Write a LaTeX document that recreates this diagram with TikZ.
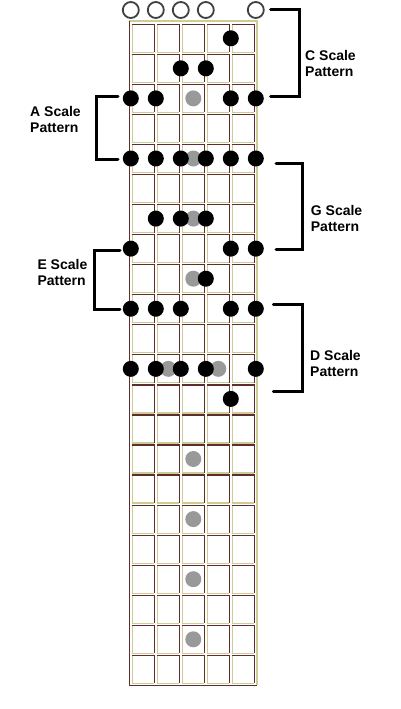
\documentclass[tikz,border=0pt]{standalone}
\usepackage{fontspec}
\setmainfont{Liberation Sans}
\definecolor{fretbrown}{RGB}{96,44,44}
\definecolor{fretbeige}{RGB}{204,204,150}
\definecolor{markgray}{RGB}{153,153,153}
\begin{document}
\begin{tikzpicture}[x=1pt,y=-1pt,
  brownline/.style={fretbrown,line width=1.2pt},
  beigeline/.style={fretbeige,line width=1.2pt},
  notedot/.style={fill=black},
  markdot/.style={fill=markgray,draw=none},
  opendot/.style={draw=black!75,fill=white,line width=1.8pt},
  bracket/.style={black,line width=3pt,line cap=round},
  scalelabel/.style={font=\fontsize{14}{16}\selectfont\bfseries,align=left,inner sep=0pt}]
  \useasboundingbox (0,0) rectangle (400,709);
  \pgfmathsetmacro\sstep{25}     % string spacing
  \pgfmathsetmacro\fstep{30.05}  % fret spacing
  \pgfmathsetmacro\sx{130.8}     % x of first string
  \pgfmathsetmacro\fy{38.3}      % y of first fret centre
  \pgfmathsetmacro\dotr{8}       % radius of dots

% neck outline
  \draw[beigeline] (129.3,21) -- (257,21) -- (257,685.3);
  \draw[brownline] (129.3,21) -- (129.3,685.3) -- (257,685.3);

% fret cells
  \foreach \i in {0,...,4}
    \foreach \k in {0,...,21} {
      \pgfmathsetmacro\xa{\sx+\i*\sstep+1.5}
      \pgfmathsetmacro\xb{\sx+(\i+1)*\sstep-1.5}
      \pgfmathsetmacro\ya{\fy+\k*\fstep-14}
      \pgfmathsetmacro\yb{\fy+\k*\fstep+14}
      \draw[beigeline] (\xa,\ya) -- (\xa,\yb) -- (\xb,\yb);
      \draw[brownline] (\xa,\ya) -- (\xb,\ya) -- (\xb,\yb);
    }

% open strings
  \foreach \s in {0,1,2,3,5}
    \filldraw[opendot] ({\sx+\s*\sstep},10) circle (8);

% fret markers
  \foreach \c/\r in {2/3,2/5,2/7,2/9,1/12,3/12,2/15,2/17,2/19,2/21}
    \fill[markdot] ({\sx+(\c+0.5)*\sstep},{\fy+(\r-1)*\fstep}) circle (\dotr);

% scale notes
  \foreach \s/\r in {4/1, 2/2,3/2, 0/3,1/3,4/3,5/3,
                     0/5,1/5,2/5,3/5,4/5,5/5, 1/7,2/7,3/7,
                     0/8,4/8,5/8, 3/9, 0/10,1/10,2/10,4/10,5/10,
                     0/12,1/12,2/12,3/12,5/12, 4/13}
    \fill[notedot] ({\sx+\s*\sstep},{\fy+(\r-1)*\fstep}) circle (\dotr);

% C scale
  \draw[bracket] (270.7,9.3) -- (299.3,9.3) -- (299.3,96.7) -- (270.7,96.7);
  \node[scalelabel,anchor=west] (clabel) at (305,63) {C Scale\\Pattern};
% A scale
  \draw[bracket] (118,96) -- (96.5,96) -- (96.5,159) -- (118,159);
  \node[scalelabel,anchor=west] (alabel) at (30,119.5) {A Scale\\Pattern};
% G scale
  \draw[bracket] (276,163.3) -- (302.7,163.3) -- (302.7,249) -- (276,249);
  \node[scalelabel,anchor=west] (glabel) at (310.7,218.3) {G Scale\\Pattern};
% E scale
  \draw[bracket] (120,250.7) -- (94.5,250.7) -- (94.5,309.3) -- (120,309.3);
  \node[scalelabel,anchor=west] (elabel) at (37.3,272.5) {E Scale\\Pattern};
% D scale
  \draw[bracket] (273.3,304) -- (302,304) -- (302,391.7) -- (273.3,391.7);
  \node[scalelabel,anchor=west] (dlabel) at (310,363.3) {D Scale\\Pattern};

\end{tikzpicture}
\end{document}
